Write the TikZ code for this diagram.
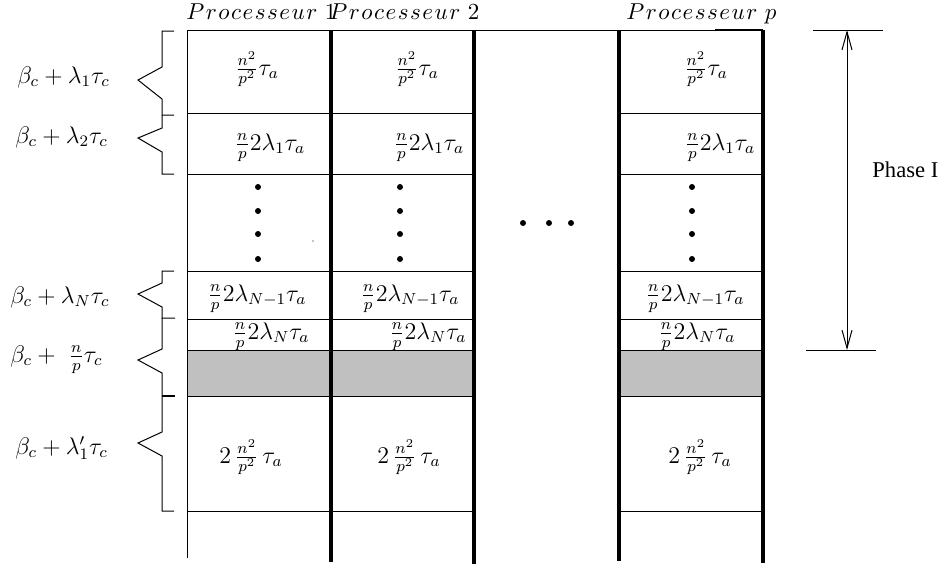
\RequirePackage{fix-cm}
\documentclass[tikz,border=0pt]{standalone}
\usepackage{fontspec}
\newfontfamily\phasefont{Liberation Serif}
\usetikzlibrary{arrows.meta}
\definecolor{cellgray}{RGB}{192,192,192}
\newcommand\pk{1.2mu}
\newcommand\Proc[1]{$P\mkern\pk r\mkern\pk o\mkern\pk c\mkern\pk e\mkern\pk s\mkern\pk s\mkern\pk e\mkern\pk u\mkern\pk r\ #1$}
\tikzset{
  thinline/.style={line width=0.5pt},
  thickline/.style={line width=2pt},
  cell/.style={inner sep=0pt, anchor=base, font=\fontsize{12}{14}\selectfont},
  lab/.style={inner sep=0pt, anchor=base west, font=\fontsize{12}{14}\selectfont},
  head/.style={inner sep=0pt, anchor=base west, font=\fontsize{11.5}{13}\selectfont},
  phase/.style={inner sep=0pt, anchor=base west, font=\phasefont\fontsize{11.3}{13}\selectfont},
  brace/.style={line width=0.5pt, line join=miter},
}
\begin{document}
\begin{tikzpicture}[x=0.5pt,y=-0.5pt]
\useasboundingbox (0,0) rectangle (943,564);
% gray band
\fill[cellgray] (187,350) rectangle (474,396);
\fill[cellgray] (619,350) rectangle (763,396);
% top line
\draw[thinline] (187,30) -- (763,30);
\draw[line width=1pt] (715,30) -- (763,30);
% row lines
\foreach \yy in {113,174,271,319,350,396,511}{
  \draw[thinline] (187,\yy) -- (474,\yy);
  \draw[thinline] (619,\yy) -- (763,\yy);
}
% column lines
\draw[thinline] (187,30) -- (187,558);
\draw[thickline] (331,30) -- (331,562);
\draw[thickline] (474,30) -- (474,564);
\draw[thickline] (619,30) -- (619,561);
\draw[thickline] (763,30) -- (763,563);
% headers
\node[head] (h1) at (186,19) {\Proc{1}};
\node[head] (h2) at (329,19) {\Proc{2}};
\node[head] (hp) at (626,19) {\Proc{p}};
% cells row 1
\node[cell] (c11) at (257,75) {$\frac{n^2}{p^2}\tau_a$};
\node[cell] (c21) at (417,75) {$\frac{n^2}{p^2}\tau_a$};
\node[cell] (cp1) at (706,75) {$\frac{n^2}{p^2}\tau_a$};
% row 2
\node[cell] (c12) at (270,150) {$\frac{n}{p}2\lambda_1\tau_a$};
\node[cell] (c22) at (429,150) {$\frac{n}{p}2\lambda_1\tau_a$};
\node[cell] (cp2) at (720,150) {$\frac{n}{p}2\lambda_1\tau_a$};
% row 4
\node[cell] (c14) at (257,301) {$\frac{n}{p}2\lambda_{N-1}\tau_a$};
\node[cell] (c24) at (410,301) {$\frac{n}{p}2\lambda_{N-1}\tau_a$};
\node[cell] (cp4) at (695,301) {$\frac{n}{p}2\lambda_{N-1}\tau_a$};
% row 5
\node[cell] (c15) at (271,339) {$\frac{n}{p}2\lambda_N\tau_a$};
\node[cell] (c25) at (428,339) {$\frac{n}{p}2\lambda_N\tau_a$};
\node[cell] (cp5) at (697,339) {$\frac{n}{p}2\lambda_N\tau_a$};
% row 6
\node[cell] (c16) at (251,463) {$2\,\frac{n^2}{p^2}\,\tau_a$};
\node[cell] (c26) at (409,463) {$2\,\frac{n^2}{p^2}\,\tau_a$};
\node[cell] (cp6) at (700,463) {$2\,\frac{n^2}{p^2}\,\tau_a$};
% vertical dots
\foreach \xx in {258,400,692}{
  \foreach \yy in {187,211,234,259}{
    \fill (\xx,\yy) circle[radius=1.5pt];
  }
}
% horizontal dots
\foreach \xx in {523,549,571}{
  \fill (\xx,223) circle[radius=1.5pt];
}
\fill (313,241) circle[radius=0.35pt];
% left labels
\node[lab] (l1) at (17,83) {$\beta_c+\lambda_1\tau_c$};
\node[lab] (l2) at (15,143) {$\beta_c+\lambda_2\tau_c$};
\node[lab] (l3) at (10,303) {$\beta_c+\lambda_N\tau_c$};
\node[lab] (l4) at (10,362) {$\beta_c+\ \frac{n}{p}\tau_c$};
\node[lab] (l5) at (15,454) {$\beta_c+\lambda^{\prime}_1\tau_c$};
% braces
\draw[brace] (174,31) -- (162,31) -- (162,67) -- (138,80) -- (162,99) -- (162,115) -- (174,115);
\draw[brace] (162,115) -- (162,128) -- (138,138) -- (162,152) -- (162,174) -- (174,174);
\draw[brace] (174,271) -- (162,271) -- (162,283) -- (138,294) -- (162,307) -- (162,318) -- (175,318);
\draw[brace] (162,318) -- (162,349) -- (138,360) -- (162,373) -- (162,396);
\draw[line width=1pt] (162,396) -- (175,396);
\draw[brace] (162,396) -- (162,432) -- (138,443) -- (162,456) -- (162,511) -- (174,511);
% Phase I
\draw[thinline] (813,30) -- (883,30);
\draw[thinline] (806,350) -- (876,350);
\coordinate (ptop) at (847,30);
\coordinate (pbot) at (847,350);
\draw[thinline, {Straight Barb[length=9pt,width=5pt]}-{Straight Barb[length=9pt,width=5pt]}] (ptop) -- (pbot);
\node[phase] (ph) at (872,177) {Phase I};
\end{tikzpicture}
\end{document}
